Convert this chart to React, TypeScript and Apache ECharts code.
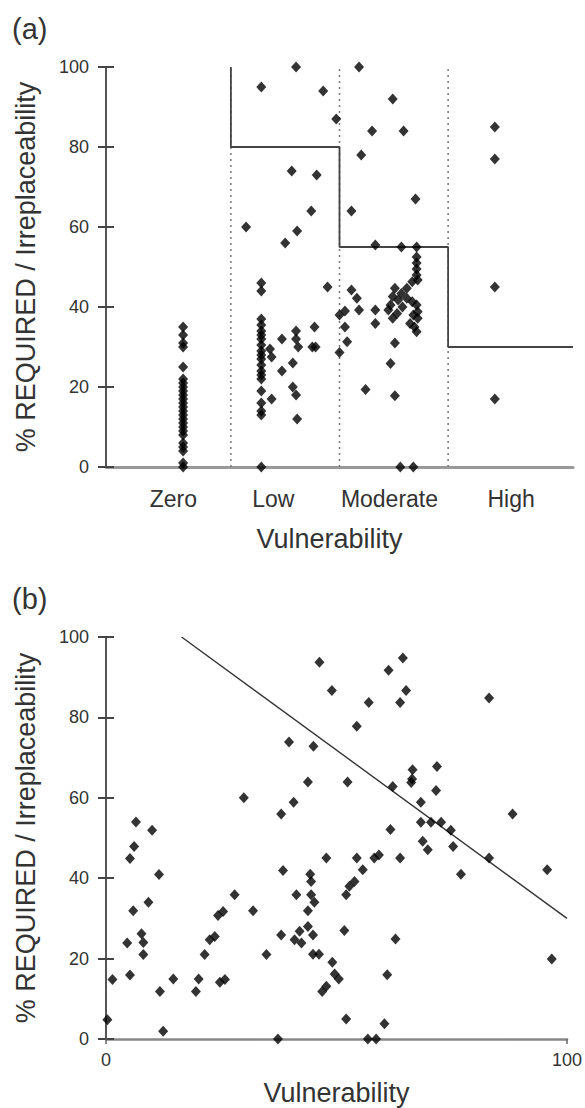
import React, { useEffect, useRef } from "react";
import * as echarts from "echarts";

// ---------- Panel (a) data ----------
// x unit: category boundaries sit at 1, 2, 3 (Zero | Low | Moderate | High)
const vulnCats = ["Zero", "Low", "Moderate", "High"];
const catLabelPos = [0.47, 1.39, 2.46, 3.58];
const catBounds = [1, 2, 3];
const thresholdLevels = [100, 80, 55, 30];
const axisAEnd = 4.15;

const zeroX = 0.56;
const zeroVals = [35, 33, 31, 30, 25, 22, 21, 20, 19, 18, 17, 16, 15, 14, 13, 12, 11, 10, 9, 8, 6, 5, 4, 1, 0];

const lowPoints = [
  [1.6, 100], [1.28, 95], [1.85, 94], [1.97, 87], [1.56, 74], [1.79, 73], [1.74, 64],
  [1.14, 60], [1.61, 59], [1.5, 56],
  [1.28, 46], [1.28, 44], [1.28, 37], [1.28, 35.5], [1.28, 34], [1.28, 33], [1.28, 32],
  [1.28, 30.5], [1.28, 29], [1.28, 28], [1.28, 27], [1.28, 25.5], [1.28, 24], [1.28, 23],
  [1.28, 22], [1.28, 19], [1.28, 16], [1.28, 14], [1.28, 13], [1.28, 0],
  [1.36, 29.5], [1.375, 27.5], [1.375, 17], [1.47, 32], [1.47, 24], [1.6, 34], [1.6, 32],
  [1.62, 30], [1.57, 26], [1.57, 20], [1.6, 18], [1.61, 12], [1.77, 35], [1.75, 30],
  [1.78, 30], [1.89, 45],
];

const moderatePoints = [
  [2.18, 100], [2.49, 92], [2.3, 84], [2.59, 84], [2.2, 78], [2.7, 67], [2.11, 64],
  [2.33, 55.5], [2.57, 55], [2.71, 55], [2.71, 52.5], [2.71, 51], [2.71, 49.5], [2.71, 48],
  [2.72, 46.75], [2.67, 46.3], [2.62, 44.7], [2.51, 44.7], [2.57, 43.4], [2.49, 42.6],
  [2.54, 41.75], [2.62, 42.2], [2.67, 41.3], [2.71, 40.5], [2.47, 40.5], [2.58, 40],
  [2.72, 38.8], [2.53, 38.4], [2.45, 39.25], [2.68, 38], [2.72, 37.2], [2.49, 37.2],
  [2.65, 35.9], [2.69, 35], [2.71, 33.8], [2.33, 39.25], [2.33, 35.9], [2.51, 31],
  [2.0, 38], [2.0, 28.6], [2.05, 39], [2.05, 35], [2.07, 31.3], [2.11, 44.25],
  [2.16, 42.2], [2.18, 39.25], [2.24, 19.4], [2.47, 25.9], [2.51, 17.8], [2.56, 0], [2.68, 0],
];

const highPoints = [[3.43, 85], [3.43, 77], [3.43, 45], [3.43, 17]];

// ---------- Panel (b) data ----------
const scatterB = [
  [0.3, 4.8], [1.4, 14.8], [5.2, 44.9], [6.5, 54], [6.1, 47.9], [5.9, 31.9], [4.6, 23.9],
  [5.2, 15.9], [7.7, 26.2], [8.1, 24], [8.1, 21], [9.2, 34], [10.0, 51.9], [11.5, 40.9],
  [11.7, 11.8], [12.4, 1.9], [14.6, 14.9], [19.5, 11.8], [20.1, 14.9], [21.4, 21],
  [22.5, 24.7], [23.6, 25.5], [24.3, 30.7], [25.4, 31.7], [24.7, 14.1], [25.8, 14.8],
  [27.9, 35.9], [29.9, 60], [31.9, 31.9], [34.8, 21], [37.3, 0], [38.0, 25.9], [38.0, 56],
  [38.4, 41.9], [40.7, 58.9], [41.3, 35.9],
  [46.3, 93.7], [64.4, 94.8], [61.3, 91.7], [49.0, 86.7], [65.1, 86.7], [57.0, 83.7],
  [63.8, 83.7], [83.1, 84.8], [54.4, 77.8], [39.7, 73.9], [45.0, 72.8], [43.8, 63.9],
  [52.4, 63.9], [66.5, 67], [66.4, 64.7], [66.2, 63.8], [71.8, 67.8], [71.6, 61.8],
  [62.2, 62.8], [68.3, 58.9], [88.2, 56], [68.3, 53.9], [70.5, 53.9], [72.7, 53.9],
  [61.7, 52.1], [74.8, 51.9], [68.7, 49.2], [69.8, 47.1], [75.3, 47.9], [83.1, 45],
  [77.0, 41], [95.7, 42.1], [96.7, 19.9], [47.8, 45], [54.4, 45], [58.2, 45], [59.2, 45.8],
  [63.8, 45], [55.7, 42.1], [44.3, 41], [44.5, 39.2], [53.9, 39.2], [52.8, 38], [52.1, 35.9],
  [44.5, 35.9], [45.2, 34], [43.8, 31.9], [43.8, 28], [42.0, 26.8], [40.9, 24.7], [42.4, 23.9],
  [44.9, 25.9], [51.7, 27], [62.8, 24.9], [44.9, 21.1], [46.2, 21.1], [49.1, 19.1],
  [49.6, 16.2], [50.5, 14.9], [47.8, 13.1], [46.9, 11.8], [61.0, 16], [52.1, 5], [60.4, 3.8],
  [56.8, 0], [58.6, 0],
];
const regX = [16.4, 100];
const regY = [100, 30];

const FONT = "'Liberation Sans', Arial, Helvetica, sans-serif";
const TXT = "#333";

export default function App() {
  const ref = useRef<HTMLDivElement>(null);
  useEffect(() => {
    if (!ref.current) return;
    const chart = echarts.init(ref.current, undefined, { renderer: "svg" });

    const zeroPoints = zeroVals.map((v) => [zeroX, v]);
    const stepPath: number[][] = [[catBounds[0], thresholdLevels[0]]];
    catBounds.forEach((b, i) => {
      stepPath.push([b, thresholdLevels[i]]);
      stepPath.push([b, thresholdLevels[i + 1]]);
    });
    stepPath.push([axisAEnd, thresholdLevels[thresholdLevels.length - 1]]);

    const marker = {
      type: "scatter" as const,
      symbol: "diamond",
      symbolSize: [10, 11],
      itemStyle: { color: "#000" },
      z: 5,
    };

    const yAxisBase = (gridIndex: number) => ({
      type: "value",
      gridIndex,
      min: 0,
      max: 100,
      interval: 20,
      axisLine: { show: true, onZero: false, lineStyle: { color: "#555", width: 2 } },
      axisTick: { show: true, length: 8, lineStyle: { color: "#444", width: 2 } },
      axisLabel: { color: TXT, fontSize: 18, fontFamily: FONT, margin: 17 },
      splitLine: { show: false },
      name: "% REQUIRED / Irreplaceability",
      nameLocation: "middle",
      nameGap: 67,
      nameMoveOverlap: false,
      nameTextStyle: { color: TXT, fontSize: 27, fontFamily: FONT },
    });
    const yAxisInner = (gridIndex: number) => ({
      type: "value",
      gridIndex,
      min: 0,
      max: 100,
      interval: 20,
      position: "left",
      axisLine: { show: false, onZero: false },
      axisTick: { show: true, inside: true, length: 8, lineStyle: { color: "#444", width: 2 } },
      axisLabel: { show: false },
      splitLine: { show: false },
    });

    chart.setOption({
      animation: false,
      grid: [
        { left: 106, top: 67, width: 467, height: 400 },
        { left: 106, top: 637, width: 462, height: 402 },
      ],
      xAxis: [
        {
          type: "value",
          gridIndex: 0,
          min: -0.15,
          max: axisAEnd,
          axisLine: { show: true, onZero: false, lineStyle: { color: "#999", width: 3 } },
          axisTick: { show: false },
          splitLine: { show: false },
          axisLabel: {
            customValues: catLabelPos,
            color: TXT,
            fontSize: 23,
            fontFamily: FONT,
            margin: 20,
            formatter: (v: number) => {
              let best = 0;
              catLabelPos.forEach((p, i) => {
                if (Math.abs(p - v) < Math.abs(catLabelPos[best] - v)) best = i;
              });
              return vulnCats[best];
            },
          },
          name: "Vulnerability",
          nameLocation: "middle",
          nameGap: 58,
          nameMoveOverlap: false,
          nameTextStyle: { color: TXT, fontSize: 27, fontFamily: FONT, padding: [0, 20, 0, 0] },
        },
        {
          type: "value",
          gridIndex: 1,
          min: 0,
          max: 100,
          interval: 100,
          axisLine: { show: true, onZero: false, lineStyle: { color: "#888", width: 2.5 } },
          axisTick: { show: true, length: 5, lineStyle: { color: "#666", width: 1.5 } },
          splitLine: { show: false },
          axisLabel: { color: TXT, fontSize: 18, fontFamily: FONT, margin: 12 },
          name: "Vulnerability",
          nameLocation: "middle",
          nameGap: 40,
          nameMoveOverlap: false,
          nameTextStyle: { color: TXT, fontSize: 27, fontFamily: FONT },
        },
      ],
      yAxis: [yAxisBase(0), yAxisInner(0), yAxisBase(1), yAxisInner(1)],
      graphic: [
        { type: "text", left: 12, top: 14, style: { text: "(a)", fontSize: 29, fontFamily: FONT, fill: TXT } },
        { type: "text", left: 12, top: 584, style: { text: "(b)", fontSize: 29, fontFamily: FONT, fill: TXT } },
      ],
      series: [
        ...catBounds.map((b) => ({
          type: "line" as const,
          xAxisIndex: 0,
          yAxisIndex: 0,
          data: [[b, 0], [b, 100]],
          symbol: "none",
          lineStyle: { color: "#777", width: 1.5, type: [2, 4] },
          z: 1,
        })),
        {
          type: "line",
          xAxisIndex: 0,
          yAxisIndex: 0,
          data: stepPath,
          symbol: "none",
          lineStyle: { color: "#444", width: 1.8 },
          z: 2,
        },
        { ...marker, xAxisIndex: 0, yAxisIndex: 0, data: zeroPoints },
        { ...marker, xAxisIndex: 0, yAxisIndex: 0, data: lowPoints },
        { ...marker, xAxisIndex: 0, yAxisIndex: 0, data: moderatePoints },
        { ...marker, xAxisIndex: 0, yAxisIndex: 0, data: highPoints },
        {
          type: "line",
          xAxisIndex: 1,
          yAxisIndex: 2,
          data: regX.map((x, i) => [x, regY[i]]),
          symbol: "none",
          lineStyle: { color: "#333", width: 1.4 },
          z: 2,
        },
        { ...marker, xAxisIndex: 1, yAxisIndex: 2, data: scatterB },
      ],
    });
    return () => chart.dispose();
  }, []);
  return (
    <div
      ref={ref}
      style={{ position: "absolute", left: 0, top: 0, width: 585, height: 1108, background: "#fff" }}
    />
  );
}
